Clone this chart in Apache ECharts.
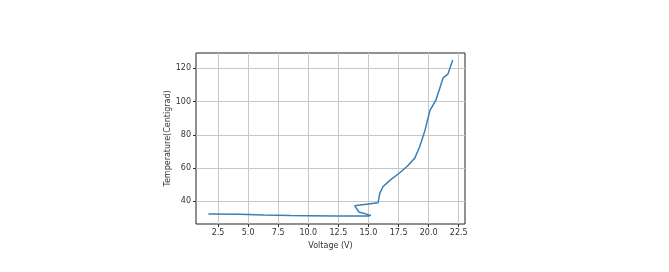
<!DOCTYPE html>
<html>
<head>
<meta charset="utf-8">
<script src="https://cdn.jsdelivr.net/npm/echarts@6/dist/echarts.min.js"></script>
<style>
html,body{margin:0;padding:0;background:#fff;}
#chart{width:669px;height:272px;}
</style>
</head>
<body>
<div id="chart"></div>
<script>
const voltage = [1.7, 4.3, 6.3, 8.5, 10.0, 12.2, 13.5, 15.0, 15.2, 14.2, 13.85, 15.8, 15.94, 16.2, 16.8, 17.6, 18.2, 18.85, 19.26, 19.7, 20.1, 20.6, 21.2, 21.6, 22.0];
const temperature = [32.4, 32.2, 31.8, 31.5, 31.4, 31.2, 31.2, 31.2, 31.6, 33.6, 37.4, 39.2, 44.8, 48.8, 52.8, 57.2, 61.0, 66.0, 73.0, 82.8, 94.5, 100.8, 114.2, 116.5, 125.0];
const xTicks = [2.5, 5.0, 7.5, 10.0, 12.5, 15.0, 17.5, 20.0, 22.5];
const yTicks = [40, 60, 80, 100, 120];
const xName = 'Voltage (V)';
const yName = 'Temperature(Centigrad)';

const font = 'DejaVu Sans';
const chart = echarts.init(document.getElementById('chart'), null, {renderer: 'canvas'});
chart.setOption({
  animation: false,
  backgroundColor: '#fff',
  grid: {left: 196, right: 204, top: 53, bottom: 48, show: true, borderColor: '#222', borderWidth: 1, backgroundColor: 'transparent'},
  xAxis: {
    type: 'value', min: 0.67, max: 23.02,
    name: xName, nameLocation: 'middle', nameGap: 15,
    nameTextStyle: {fontFamily: font, fontSize: 8, color: '#333'},
    axisLine: {show: false},
    axisTick: {show: true, length: 3, inside: false, lineStyle: {color: '#333'}, customValues: xTicks},
    axisLabel: {fontFamily: font, fontSize: 8, color: '#333', margin: 5, customValues: xTicks, formatter: v => v.toFixed(1)},
    splitLine: {show: true, lineStyle: {color: '#c8c8c8', width: 1}}
  },
  yAxis: {
    type: 'value', min: 26.4, max: 129.2,
    name: yName, nameLocation: 'middle', nameGap: 23, nameRotate: 90,
    nameTextStyle: {fontFamily: font, fontSize: 8, color: '#333'},
    axisLine: {show: false},
    axisTick: {show: true, length: 3, inside: false, lineStyle: {color: '#333'}, customValues: yTicks},
    axisLabel: {fontFamily: font, fontSize: 8, color: '#333', margin: 5, customValues: yTicks},
    splitLine: {show: true, lineStyle: {color: '#c8c8c8', width: 1}}
  },
  series: [{
    type: 'line',
    data: voltage.map((v, i) => [v, temperature[i]]),
    showSymbol: false, symbol: 'none',
    lineStyle: {color: '#3a7fb5', width: 1.5},
    z: 3
  }]
});
</script>
</body>
</html>
